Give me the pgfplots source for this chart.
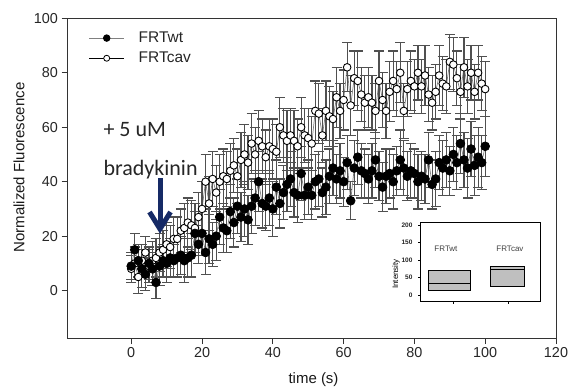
\documentclass[border=0pt]{standalone}
\usepackage{pgfplots}
\pgfplotsset{compat=1.18}
\usepackage{pgfplotstable}
\usepackage{fontspec}
\setmainfont{Liberation Sans}
\newfontfamily\calibri{Carlito}
\definecolor{navy}{RGB}{22,42,102}
\definecolor{ebar}{RGB}{80,80,80}

\pgfplotstableread{
t v e
0 9 5
1 15 6
2 11 6
3 8 7
4 6 6
5 10 6
6 8 6
7 3 6
8 9 7
9 11 6
10 10 7
11 12 7
12 11 6
13 12 7
14 13 7
15 11 8
16 12 7
17 13 8
18 21 8
19 17 7
20 21 8
21 14 8
22 19 9
23 17 8
24 20 9
25 27 10
26 23 9
27 22 8
28 29 10
29 25 9
30 31 10
31 27 9
32 30 10
33 26 9
34 31 10
35 34 10
36 40 11
37 32 9
38 31 9
39 34 10
40 30 10
41 38 10
42 32 9
43 36 10
44 39 10
45 41 10
46 36 9
47 35 10
48 43 10
49 35 9
50 38 10
51 35 9
52 40 10
53 41 10
54 36 9
55 38 10
56 42 10
57 45 10
58 41 9
59 44 10
60 40 9
61 47 10
62 33 7
63 45 10
64 49 10
65 44 10
66 43 9
67 41 9
68 44 10
69 48 10
70 42 9
71 38 9
72 42 10
73 43 9
74 40 10
75 44 9
76 48 11
77 45 10
78 42 9
79 44 10
80 43 9
81 40 10
82 42 9
83 41 9
84 48 10
85 39 9
86 41 10
87 47 10
88 45 10
89 48 10
90 44 9
91 50 10
92 47 10
93 54 11
94 48 10
95 45 11
96 52 10
97 46 11
98 49 11
99 47 10
100 53 11
}\wt

\pgfplotstableread{
t v e
0 8 5
1 10 6
2 5 6
3 11 6
4 14 6
5 9 6
6 11 7
7 12 7
8 14 7
9 15 7
10 17 8
11 16 8
12 19 8
13 19 8
14 22 8
15 23 9
16 25 9
17 24 9
18 23 9
19 27 9
20 30 10
21 40 10
22 32 10
23 41 10
24 36 10
25 40 10
26 42 10
27 41 10
28 44 10
29 46 10
30 42 10
31 48 10
32 50 11
33 47 10
34 54 11
35 50 10
36 55 11
37 53 10
38 49 10
39 53 10
40 52 11
41 51 10
42 60 11
43 57 10
44 55 11
45 57 10
46 55 11
47 53 10
48 60 11
49 57 10
50 56 11
51 54 10
52 66 11
53 65 11
54 57 10
55 66 11
56 64 11
57 63 10
58 71 11
59 66 10
60 70 11
61 82 9
62 68 11
63 78 10
64 77 11
65 72 10
66 69 10
67 71 11
68 69 10
69 66 10
70 77 11
71 70 10
72 66 10
73 73 11
74 77 11
75 74 10
76 80 11
77 66 10
78 74 10
79 77 11
80 75 10
81 80 10
82 75 10
83 79 11
84 72 10
85 69 10
86 73 10
87 79 11
88 76 10
89 75 10
90 84 10
91 83 10
92 78 10
93 73 10
94 82 11
95 75 10
96 80 10
97 73 10
98 80 10
99 76 10
100 74 10
}\cav

\begin{document}
\begin{tikzpicture}[x=1pt,y=1pt]
\useasboundingbox (0,0) rectangle (568,389);
\begin{axis}[
  at={(67.5pt,51pt)}, anchor=south west, scale only axis,
  width=488.5pt, height=319.7pt,
  xmin=-18, xmax=120, ymin=-17.4, ymax=100,
  xtick={0,20,...,120}, ytick={0,20,...,100},
  tick align=outside, tick pos=left, major tick length=6pt,
  axis line style={black!80, line width=1pt},
  tick style={black!80, line width=1pt},
  /pgf/number format/assume math mode=true,
  ticklabel style={font=\fontsize{14.4}{16}\selectfont, text=black!85},
  xlabel={time (s)}, ylabel={Normalized Fluorescence},
  label style={font=\fontsize{15}{17}\selectfont, text=black!90},
  xlabel style={at={(axis description cs:0.5036,-0.131)}, anchor=center},
  ylabel style={at={(axis description cs:-0.0993,0.533)}, anchor=center},
  legend cell align=left,
  legend image code/.code={\draw[mark repeat=2,mark phase=2,#1] plot coordinates {(0pt,0pt) (17.5pt,0pt) (35pt,0pt)};},
  legend style={draw=none, fill=none, at={(rel axis cs:0.043,0.964)}, anchor=north west,
    font=\fontsize{15.5}{17}\selectfont, text=black!85, inner sep=0pt, row sep=4pt,
    /tikz/every odd column/.append style={column sep=12pt}},
]
\addlegendimage{color=gray, line width=1pt, mark=*, mark size=3.2pt, mark options={fill=black, draw=black}}
\addlegendentry{FRTwt}
\addlegendimage{color=black, line width=0.8pt, mark=*, mark size=3pt, mark options={fill=white, draw=black}}
\addlegendentry{FRTcav}

\addplot[forget plot, color=gray, line width=0.7pt, mark=*, mark size=3.8pt,
  mark options={fill=white, draw=black, line width=0.9pt},
  error bars/.cd, y dir=both, y explicit,
  error bar style={ebar, line width=1.2pt},
  error mark options={rotate=90, mark size=5pt, ebar, line width=1.2pt}]
  table[x=t, y=v, y error=e] {\cav};
\addplot[forget plot, color=gray, line width=0.7pt, mark=*, mark size=4.4pt,
  mark options={fill=black, draw=black},
  error bars/.cd, y dir=both, y explicit,
  error bar style={ebar, line width=1.2pt},
  error mark options={rotate=90, mark size=5pt, ebar, line width=1.2pt}]
  table[x=t, y=v, y error=e] {\wt};
\end{axis}

\node[anchor=base west, font=\calibri\fontsize{22}{24}\selectfont, text=black!85] at (100,252) {+ 5 uM};
\node[anchor=base west, font=\calibri\fontsize{22}{24}\selectfont, text=black!85] at (100,214) {bradykinin};
\draw[navy, line width=5pt] (160,211) -- (160,162);
\draw[navy, line width=5pt, line join=miter, line cap=butt] (149.5,177) -- (160,160) -- (170.5,177);

\begin{axis}[
  at={(420pt,87.5pt)}, anchor=south west, scale only axis,
  width=120pt, height=79.5pt,
  xmin=0.395, xmax=2.576, ymin=-18.6, ymax=208.6,
  xtick={1,2}, xticklabels={}, ytick={0,50,...,200},
  tick align=outside, tick pos=left, major tick length=2pt,
  axis line style={black, line width=0.8pt},
  tick style={black, line width=0.6pt},
  /pgf/number format/assume math mode=true,
  ticklabel style={font=\fontsize{6.5}{7}\selectfont\bfseries, text=black!85},
  yticklabel style={xshift=-2pt},
  ylabel={Intensity},
  ylabel style={at={(axis description cs:-0.2,0.346)}, anchor=center, font=\fontsize{8}{9}\selectfont},
]
\addplot[fill=black!25, draw=black, line width=0.8pt] coordinates {(0.546,14.3) (1.303,14.3) (1.303,71.4) (0.546,71.4)} -- cycle;
\addplot[black, line width=0.8pt] coordinates {(0.546,33.3) (1.303,33.3)};
\addplot[fill=black!25, draw=black, line width=0.8pt] coordinates {(1.667,25.7) (2.29,25.7) (2.29,81) (1.667,81)} -- cycle;
\addplot[black, line width=0.8pt] coordinates {(1.667,73.3) (2.29,73.3)};
\node[font=\fontsize{8}{9}\selectfont, text=black!75] at (axis cs:0.867,131) {FRTwt};
\node[font=\fontsize{8}{9}\selectfont, text=black!75] at (axis cs:2.03,131) {FRTcav};
\end{axis}
\end{tikzpicture}
\end{document}
